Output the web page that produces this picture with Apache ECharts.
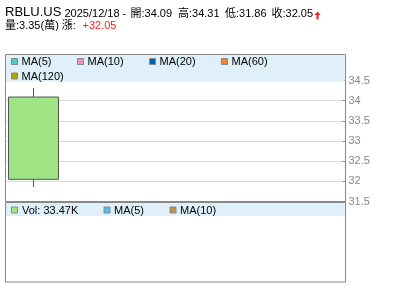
<!DOCTYPE html>
<html><head><meta charset="utf-8">
<script src="https://cdn.jsdelivr.net/npm/echarts@6/dist/echarts.min.js"></script>
<style>html,body{margin:0;padding:0;background:#fff}#c{width:400px;height:301px}</style>
</head><body><div id="c"></div>
<script>
// ---- data ----
const symbol = 'RBLU.US';
const dates = ['2025/12/18'];
const opens = [34.09];
const highs = [34.31];
const lows = [31.86];
const closes = [32.05];
const volumesK = [33.47];
const volumeWan = [3.35];
const changes = [32.05];
const priceTicks = [31.5, 32, 32.5, 33, 33.5, 34, 34.5];
const maNames = ['MA(5)', 'MA(10)', 'MA(20)', 'MA(60)', 'MA(120)'];
const maColors = ['#48d0c8', '#f48cbc', '#0062b4', '#ff8020', '#b2a200'];
const volNames = ['MA(5)', 'MA(10)'];
const volColors = ['#50c0f0', '#c49046'];

// ---- layout ----
const FONT = '"Liberation Sans", Arial, "Noto Sans CJK TC", sans-serif';
const maPos = [[11, 62], [77, 62], [149, 62], [221, 62], [11, 76.5]];
const volPos = [[103.5, 210.5], [169.5, 210.5]];

const g = [];
// frames
g.push({type:'rect', z:50, shape:{x:6, y:55, width:338.5, height:26.5}, style:{fill:'#dff0fa'}});
g.push({type:'rect', z:50, shape:{x:6, y:203, width:338.5, height:13}, style:{fill:'#dff0fa'}});
g.push({type:'rect', z:60, shape:{x:5.5, y:54.5, width:340, height:147}, style:{fill:null, stroke:'#888', lineWidth:1}});
g.push({type:'rect', z:60, shape:{x:5.5, y:202.5, width:340, height:79.5}, style:{fill:null, stroke:'#888', lineWidth:1}});

function box(x, y, color) {
  g.push({type:'rect', z:70, shape:{x:x+0.5, y:y-3.5, width:6, height:6}, style:{fill:color, stroke:'#888', lineWidth:1}});
}
function txt(x, y, text, size, color, extra) {
  g.push(Object.assign({type:'text', z:70, style:{x:x, y:y, text:text, font:size + 'px ' + FONT, fill:color || '#000', verticalAlign:'middle', align:'left'}}, extra || {}));
}
maNames.forEach((n, i) => { box(maPos[i][0], maPos[i][1], maColors[i]); txt(maPos[i][0] + 10.5, maPos[i][1], n, 11); });
box(11, 210.5, '#a0e484');
txt(22, 210.5, 'Vol: ' + volumesK[0].toFixed(2) + 'K', 11);
volNames.forEach((n, i) => { box(volPos[i][0], volPos[i][1], volColors[i]); txt(volPos[i][0] + 10.5, volPos[i][1], n, 11); });

// header
txt(5, 12.5, symbol, 13);
txt(64.5, 13.5, dates[0] + ' - ', 11);
txt(130.5, 13.5, '開:' + opens[0].toFixed(2), 11);
txt(178, 13.5, '高:' + highs[0].toFixed(2), 11);
txt(225, 13.5, '低:' + lows[0].toFixed(2), 11);
txt(271.5, 13.5, '收:' + closes[0].toFixed(2), 11);
g.push({type:'polygon', z:70, shape:{points:[[317.5,11.5],[320.5,15],[318.5,15],[318.5,19.5],[316.5,19.5],[316.5,15],[314.5,15]]}, style:{fill:'#ff2020'}});
txt(5, 26, '量:' + volumeWan[0].toFixed(2) + '(萬) 漲:', 11);
txt(82.5, 26, '+' + changes[0].toFixed(2), 11, '#ff2020');

const chart = echarts.init(document.getElementById('c'), null, {renderer:'canvas'});
chart.setOption({
  animation: false,
  backgroundColor: '#fff',
  grid: [{left:5, right:54.5, top:80.5, height:121}],
  xAxis: [{type:'category', data:dates, min:0, max:5, boundaryGap:true,
    axisLine:{show:false}, axisTick:{show:false}, axisLabel:{show:false}, splitLine:{show:false}}],
  yAxis: [{type:'value', position:'right', min:priceTicks[0], max:priceTicks[priceTicks.length-1], interval:0.5,
    axisLine:{show:true, lineStyle:{color:'#888'}},
    axisTick:{show:true, inside:true, length:3, lineStyle:{color:'#888'}},
    axisLabel:{color:'#888', fontSize:11, fontFamily:FONT, margin:3, formatter: v => String(v)},
    splitLine:{show:true, lineStyle:{color:'#ddd'}}}],
  series: [{type:'candlestick', barWidth:50,
    data: dates.map((d, i) => [opens[i], closes[i], lows[i], highs[i]]),
    itemStyle:{color:'#e84040', color0:'#a0e585', borderColor:'#555', borderColor0:'#555', borderWidth:1}}],
  graphic: g
});
</script></body></html>
